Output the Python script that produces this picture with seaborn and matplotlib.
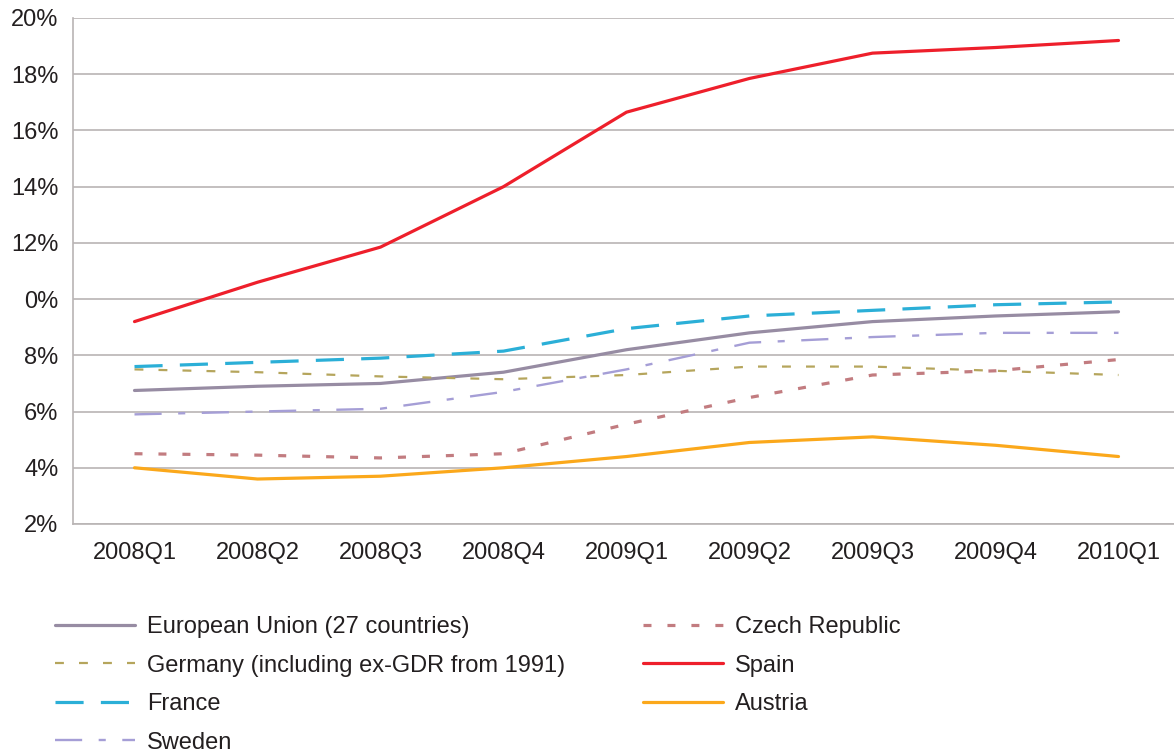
import seaborn as sns
import matplotlib.pyplot as plt
import pandas as pd

# Unemployment rate by quarter (%)
quarters = ["2008Q1", "2008Q2", "2008Q3", "2008Q4", "2009Q1",
            "2009Q2", "2009Q3", "2009Q4", "2010Q1"]

eu27 = [6.75, 6.9, 7.0, 7.4, 8.2, 8.8, 9.2, 9.4, 9.55]
germany = [7.5, 7.4, 7.25, 7.15, 7.3, 7.6, 7.6, 7.45, 7.3]
france = [7.6, 7.75, 7.9, 8.15, 8.95, 9.4, 9.6, 9.8, 9.9]
sweden = [5.9, 6.0, 6.1, 6.7, 7.5, 8.45, 8.65, 8.8, 8.8]
czech = [4.5, 4.45, 4.35, 4.5, 5.55, 6.5, 7.3, 7.45, 7.85]
spain = [9.2, 10.6, 11.85, 14.0, 16.65, 17.85, 18.75, 18.95, 19.2]
austria = [4.0, 3.6, 3.7, 4.0, 4.4, 4.9, 5.1, 4.8, 4.4]

series_names = ["European Union (27 countries)",
                "Germany (including ex-GDR from 1991)",
                "France", "Sweden", "Czech Republic", "Spain", "Austria"]
series_values = [eu27, germany, france, sweden, czech, spain, austria]

y_ticks = [2, 4, 6, 8, 10, 12, 14, 16, 18, 20]
y_tick_labels = ["2%", "4%", "6%", "8%", "0%", "12%", "14%", "16%", "18%", "20%"]

# style per series: colour, line width (pt), dash pattern (in line widths)
styles = {
    "European Union (27 countries)": ("#978CA3", 2.3, ""),
    "Germany (including ex-GDR from 1991)": ("#B5A55C", 1.6, (4.0, 6.8)),
    "France": ("#2BAFD7", 2.3, (8.8, 5.4)),
    "Sweden": ("#A59ED6", 1.7, (11.5, 7, 3.0, 7)),
    "Czech Republic": ("#C27C80", 2.3, (2.5, 5.0)),
    "Spain": ("#EE1F2B", 2.3, ""),
    "Austria": ("#FBA81B", 2.3, ""),
}

rows = []
for name, vals in zip(series_names, series_values):
    for q, v in zip(quarters, vals):
        rows.append({"Quarter": q, "Series": name, "Rate": v})
df = pd.DataFrame(rows)
df["x"] = df["Quarter"].map({q: i for i, q in enumerate(quarters)})

sns.set_style("white")
plt.rcParams["font.family"] = ["Liberation Sans", "DejaVu Sans"]

W, H = 1174, 752
fig = plt.figure(figsize=(W / 100, H / 100), dpi=100)
# axes span slightly past the right edge of the figure, as in the source
ax = fig.add_axes([73 / W, 1 - 524 / H, 1107 / W, 506 / H])

grid_col = "#B9B4B4"
for name in series_names:
    col, lw, dash = styles[name]
    sub = df[df["Series"] == name]
    sns.lineplot(data=sub, x="x", y="Rate", ax=ax, color=col, linewidth=lw,
                 label=name, legend=False, solid_capstyle="round")
    line = ax.lines[-1]
    if dash:
        line.set_dashes(dash)

ax.set_xlim(-0.5, len(quarters) - 0.5)
ax.set_ylim(2, 20)
ax.set_yticks(y_ticks)
ax.set_yticklabels(y_tick_labels)
ax.set_xticks(range(len(quarters)))
ax.set_xticklabels(quarters)
ax.set_xticks([i - 0.5 for i in range(len(quarters) + 1)], minor=True)
ax.tick_params(axis="x", which="major", length=0, pad=13, labelsize=17,
               colors="#231F20")
ax.tick_params(axis="x", which="minor", length=6, width=1.2, color=grid_col,
               direction="out")
ax.tick_params(axis="y", length=6, width=1.2, color=grid_col, pad=4.5,
               labelsize=17, labelcolor="#231F20", direction="out")
ax.yaxis.grid(True, color=grid_col, linewidth=1.2)
ax.set_axisbelow(True)
for s in ["top", "right"]:
    ax.spines[s].set_visible(False)
for s in ["left", "bottom"]:
    ax.spines[s].set_color(grid_col)
    ax.spines[s].set_linewidth(1.2)
ax.set_xlabel("")
ax.set_ylabel("")

handles = ax.lines[:len(series_names)]
fig.legend(handles, series_names, loc="upper left",
           bbox_to_anchor=(55 / W, 1 - 616 / H), ncol=2, frameon=False,
           fontsize=17, handlelength=3.4, handletextpad=0.5,
           columnspacing=3.29, labelspacing=0.70, borderpad=0,
           borderaxespad=0, labelcolor="#231F20")

fig.savefig("out.png", dpi=100)
